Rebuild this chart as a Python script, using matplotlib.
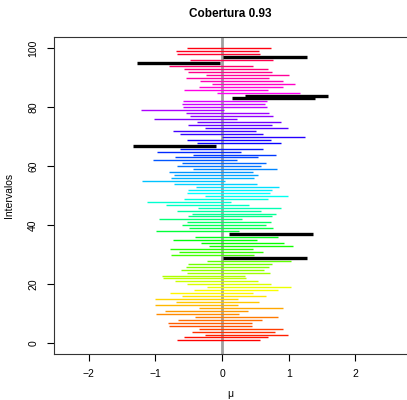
import numpy as np
import matplotlib
matplotlib.use('Agg')
import matplotlib.pyplot as plt
import colorsys

plt.rcParams['font.family'] = ['Liberation Sans', 'DejaVu Sans']

# centros de los 100 intervalos, de abajo hacia arriba
medias = [-0.055, 0.06, 0.37, 0.17, 0.285, -0.17, -0.18, -0.03, 0.22, -0.37,
          -0.23, 0.285, -0.38, -0.065, -0.38, 0.03, -0.155, 0.21, 0.405, 0.105,
          -0.08, -0.265, -0.28, 0.095, 0.01, 0.085, 0.12, 0.405, 0.645, -0.145,
          -0.015, -0.155, 0.435, 0.31, -0.105, 0.22, 0.735, -0.37, 0.135, 0.03,
          0.105, -0.32, 0.12, 0.18, -0.045, 0.26, -0.22, -0.495, 0.06, 0.37,
          0.095, 0.12, 0.235, -0.095, -0.58, -0.14, -0.09, -0.165, 0.195, -0.045,
          0.03, -0.405, -0.08, 0.185, -0.345, -0.005, -0.71, 0.255, 0.105, 0.62,
          -0.005, -0.115, 0.37, 0.12, 0.255, -0.395, 0.145, 0.085, -0.595, 0.045,
          0.02, 0.045, 0.775, 0.97, 0.545, 0.06, 0.285, 0.47, 0.295, 0.085,
          0.385, 0.12, 0.06, -0.165, -0.655, 0.145, 0.645, -0.055, -0.065, 0.105]
margen = 0.625
mu = 0
titulo = 'Cobertura 0.93'

medias = np.array(medias)
n = len(medias)
li = medias - margen
ls = medias + margen
idx = np.arange(1, n + 1)

fig = plt.figure(figsize=(4.07, 4.0), dpi=100)
# el recuadro se sale por la derecha como en la original
ax = fig.add_axes([53.5/407, 1 - 354/400, 366.5/407, 317.5/400])
xc = (230 - 53.5) / 366.5  # centro del area de dibujo para titulo y etiqueta

ax.axvline(mu, color='#a0a0a0', lw=2.0, zorder=1)
for i in range(n):
    cubre = li[i] <= mu <= ls[i]
    if cubre:
        col = colorsys.hsv_to_rgb((idx[i] - 1) / n, 1, 1)
        ax.plot([li[i], ls[i]], [idx[i], idx[i]], color=col, lw=1.0,
                solid_capstyle='butt', zorder=2)
    else:
        ax.plot([li[i], ls[i]], [idx[i], idx[i]], color='black', lw=2.4,
                solid_capstyle='butt', zorder=3)

ax.set_xlim((53.5 - 222) / 66.7, (420 - 222) / 66.7)
ax.set_ylim(-3.6, 104.0)
ax.set_xticks([-2, -1, 0, 1, 2])
ax.set_xticklabels(['\u22122', '\u22121', '0', '1', '2'])
ax.set_yticks([0, 20, 40, 60, 80, 100])
ax.set_yticklabels(['0', '20', '40', '60', '80', '100'], rotation=90, va='center')
ax.tick_params(direction='out', length=5, width=0.8, labelsize=7.5, pad=6)
for s in ax.spines.values():
    s.set_linewidth(0.8)
    s.set_color('#333333')
ax.set_xlabel('\u03bc', fontsize=7.5)
ax.xaxis.set_label_coords(xc, -0.11)
ax.set_ylabel('Intervalos', fontsize=7.5, labelpad=10)
ax.set_title(titulo, fontsize=8.5, fontweight='bold', pad=14, x=xc)

fig.savefig('out.png', dpi=100)
